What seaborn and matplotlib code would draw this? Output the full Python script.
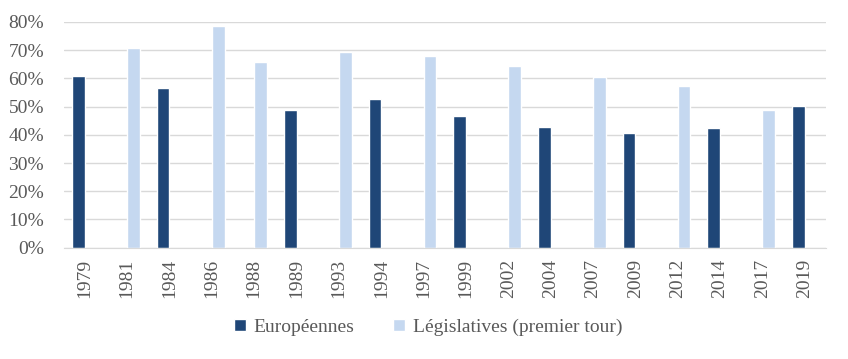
import pandas as pd
import numpy as np
import matplotlib.pyplot as plt
import seaborn as sns
from matplotlib.ticker import PercentFormatter

# Data: turnout by election year
years = ['1979', '1981', '1984', '1986', '1988', '1989', '1993', '1994', '1997',
         '1999', '2002', '2004', '2007', '2009', '2012', '2014', '2017', '2019']
election = ['Européennes', 'Législatives (premier tour)', 'Européennes',
            'Législatives (premier tour)', 'Législatives (premier tour)', 'Européennes',
            'Législatives (premier tour)', 'Européennes', 'Législatives (premier tour)',
            'Européennes', 'Législatives (premier tour)', 'Européennes',
            'Législatives (premier tour)', 'Européennes', 'Législatives (premier tour)',
            'Européennes', 'Législatives (premier tour)', 'Européennes']
turnout = [60.7, 70.9, 56.7, 78.5, 65.7, 48.8, 69.3, 52.8, 67.9,
           46.8, 64.4, 42.8, 60.4, 40.6, 57.2, 42.4, 48.7, 50.1]

series_order = ['Européennes', 'Législatives (premier tour)']
palette = {'Européennes': '#1f4677', 'Législatives (premier tour)': '#c5d8f0'}

df = pd.DataFrame({'Année': years, 'Scrutin': election, 'Participation': turnout})

sns.set_style('white')
plt.rcParams['font.family'] = ['Liberation Serif', 'DejaVu Serif']
text_color = '#595959'

fig, ax = plt.subplots(figsize=(8.48, 3.59), dpi=100)
fig.subplots_adjust(left=0.075, right=0.974, top=0.939, bottom=0.31)

sns.barplot(data=df, x='Année', y='Participation', hue='Scrutin',
            hue_order=series_order, order=years, palette=palette,
            width=0.6, dodge=True, saturation=1, ax=ax, legend=True)

ax.set_ylim(0, 80)
ax.set_yticks(np.arange(0, 81, 10))
ax.yaxis.set_major_formatter(PercentFormatter(decimals=0))
ax.set_xlim(-0.5, len(years) - 0.5)
ax.grid(axis='y', color='#d9d9d9', linewidth=1)
ax.set_axisbelow(True)
for side in ['top', 'right', 'left']:
    ax.spines[side].set_visible(False)
ax.spines['bottom'].set_color('#d9d9d9')
ax.tick_params(axis='both', length=0, labelsize=14, colors=text_color)
ax.tick_params(axis='x', pad=8)
ax.tick_params(axis='y', pad=14)
plt.setp(ax.get_xticklabels(), rotation=90)
ax.set_xlabel('')
ax.set_ylabel('')

handles, labels = ax.get_legend_handles_labels()
ax.get_legend().remove()
fig.legend(handles, labels, loc='center', bbox_to_anchor=(0.505, 0.088),
           ncol=2, frameon=False, fontsize=14, labelcolor=text_color,
           handlelength=0.6, handleheight=0.6, handletextpad=0.4, columnspacing=2.0)

plt.savefig('out.png', dpi=100)
